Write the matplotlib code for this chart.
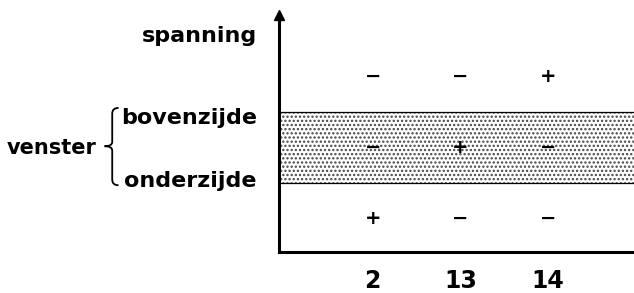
import matplotlib
matplotlib.use("Agg")
import matplotlib.pyplot as plt
from matplotlib.path import Path
from matplotlib.patches import PathPatch
import matplotlib.transforms as mtransforms

plt.rcParams["font.family"] = ["DejaVu Sans"]
plt.rcParams["hatch.linewidth"] = 1.1

# Data
columns = ["2", "13", "14"]
col_pos = [1, 2, 3]
row_levels = [2.5, 1.5, 0.5]  # boven venster, in venster, onder venster
signs = [
    ["−", "−", "+"],
    ["−", "+", "−"],
    ["+", "−", "−"],
]
window_low, window_high = 1.0, 2.0
y_labels = ["onderzijde", "bovenzijde", "spanning"]
y_label_pos = [1.06, 1.94, 3.1]

fig = plt.figure(figsize=(6.34, 2.93), dpi=100)
ax = fig.add_axes([0.44, 0.14, 0.56, 0.809])
ax.set_xlim(-0.07, 3.98)
ax.set_ylim(0.03, 3.37)

# venster band (stippled)
ax.axhspan(window_low, window_high, facecolor="white", edgecolor="#444444", lw=0,
           hatch="....", zorder=1)
ax.axhline(window_low, color="black", lw=0.9, zorder=2)
ax.axhline(window_high, color="black", lw=0.9, zorder=2)

# signs
for row, y in zip(signs, row_levels):
    for s, x in zip(row, col_pos):
        ax.text(x, y, s, ha="center", va="center", fontsize=14, fontweight="bold", zorder=3)

# axes
for side in ["top", "right"]:
    ax.spines[side].set_visible(False)
ax.spines["left"].set_linewidth(2.2)
ax.spines["bottom"].set_linewidth(2.2)
ax.plot(-0.07, 3.37, marker="^", color="black", markersize=7, clip_on=False, zorder=4)

ax.set_xticks(col_pos)
ax.set_xticklabels(columns, fontsize=17, fontweight="bold")
ax.set_yticks(y_label_pos)
ax.set_yticklabels(y_labels, fontsize=16, fontweight="bold")
ax.tick_params(length=0)
ax.tick_params(axis="x", pad=12)
ax.tick_params(axis="y", pad=16)

# venster brace
trans = mtransforms.blended_transform_factory(fig.transFigure, ax.transData)
xe, xm, xt = 0.187, 0.177, 0.165
y0, y1 = 0.97, 2.06
ym = 1.52
verts = [
    (xe, y1), (xm, y1), (xm, y1 - 0.08),
    (xm, ym + 0.06), (xm, ym), (xt, ym),
    (xm, ym), (xm, ym - 0.06),
    (xm, y0 + 0.08), (xm, y0), (xe, y0),
]
codes = [Path.MOVETO, Path.CURVE3, Path.CURVE3,
         Path.LINETO, Path.CURVE3, Path.CURVE3,
         Path.CURVE3, Path.CURVE3,
         Path.LINETO, Path.CURVE3, Path.CURVE3]
ax.add_patch(PathPatch(Path(verts, codes), transform=trans, fc="none", ec="black",
                       lw=1.3, clip_on=False))
ax.text(0.152, 1.52, "venster", transform=trans, ha="right", va="center_baseline",
        fontsize=15, fontweight="bold")

fig.savefig("out.png", dpi=100)
